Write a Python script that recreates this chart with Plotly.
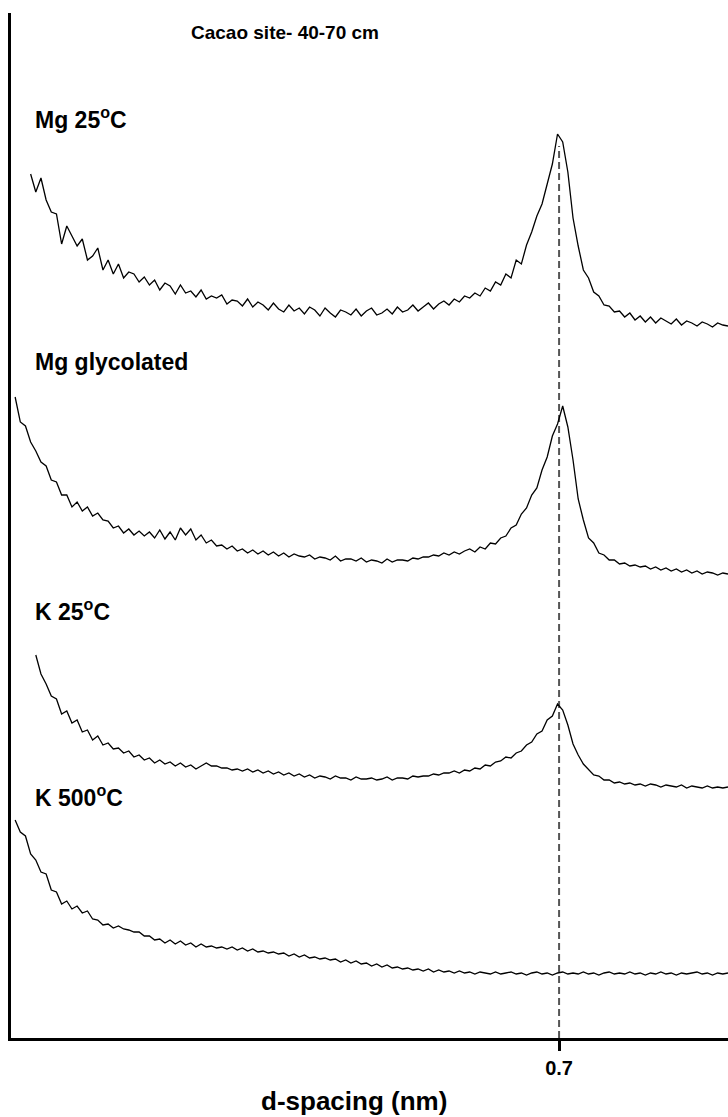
import plotly.graph_objects as go

# Scan grid in degrees 2-theta (Cu K-alpha), 0.1 degree step
TWO_THETA = [
    2.0, 2.1, 2.2, 2.3, 2.4, 2.5, 2.6, 2.7, 2.8, 2.9,
    3.0, 3.1, 3.2, 3.3, 3.4, 3.5, 3.6, 3.7, 3.8, 3.9,
    4.0, 4.1, 4.2, 4.3, 4.4, 4.5, 4.6, 4.7, 4.8, 4.9,
    5.0, 5.1, 5.2, 5.3, 5.4, 5.5, 5.6, 5.7, 5.8, 5.9,
    6.0, 6.1, 6.2, 6.3, 6.4, 6.5, 6.6, 6.7, 6.8, 6.9,
    7.0, 7.1, 7.2, 7.3, 7.4, 7.5, 7.6, 7.7, 7.8, 7.9,
    8.0, 8.1, 8.2, 8.3, 8.4, 8.5, 8.6, 8.7, 8.8, 8.9,
    9.0, 9.1, 9.2, 9.3, 9.4, 9.5, 9.6, 9.7, 9.8, 9.9,
    10.0, 10.1, 10.2, 10.3, 10.4, 10.5, 10.6, 10.7, 10.8, 10.9,
    11.0, 11.1, 11.2, 11.3, 11.4, 11.5, 11.6, 11.7, 11.8, 11.9,
    12.0, 12.1, 12.2, 12.3, 12.4, 12.5, 12.6, 12.7, 12.8, 12.9,
    13.0, 13.1, 13.2, 13.3, 13.4, 13.5, 13.6, 13.7, 13.8, 13.9,
    14.0, 14.1, 14.2, 14.3, 14.4, 14.5, 14.6, 14.7, 14.8, 14.9,
    15.0, 15.1, 15.2, 15.3, 15.4, 15.5, 15.6, 15.7, 15.8, 15.9,
]

# Intensities (counts); every scan ends at the last grid angle
MG_25C = [
    166, 148, 162, 140, 128, 126, 96, 114, 104, 94, 101, 80, 84, 92, 70, 80, 66,
    76, 62, 68, 66, 58, 63, 55, 60, 50, 57, 54, 46, 55, 47, 49, 43, 50, 41, 44, 42,
    45, 36, 40, 39, 34, 41, 33, 38, 35, 30, 37, 31, 28, 35, 29, 32, 26, 33, 30, 24,
    32, 27, 23, 30, 28, 25, 31, 24, 29, 32, 25, 27, 31, 26, 33, 28, 30, 35, 29, 33,
    37, 31, 36, 39, 35, 41, 38, 44, 42, 47, 44, 52, 49, 58, 55, 66, 62, 80, 76, 95,
    108, 124, 136, 156, 176, 206, 198, 168, 122, 94, 70, 62, 48, 44, 35, 34, 28, 29, 23, 27,
    20, 24, 18, 23, 17, 22, 19, 16, 21, 15, 19, 17, 14, 18, 16, 13, 17, 15, 14,
]

MG_GLYCOLATED = [
    193, 168, 164, 148, 139, 128, 124, 110, 108, 95, 95, 83, 88, 79, 83, 74, 77, 70, 69, 62,
    64, 57, 61, 55, 59, 54, 58, 52, 60, 51, 58, 50, 62, 55, 61, 50, 55, 47, 50, 44,
    45, 41, 44, 39, 41, 37, 40, 36, 39, 35, 38, 34, 37, 33, 36, 34, 33, 35, 31, 33,
    32, 30, 34, 29, 31, 31, 29, 32, 28, 30, 29, 27, 31, 28, 30, 30, 29, 32, 31, 33,
    33, 35, 34, 37, 35, 38, 36, 39, 41, 38, 43, 41, 47, 46, 52, 54, 62, 65, 76, 82,
    95, 102, 120, 133, 154, 166, 184, 163, 130, 91, 70, 52, 47, 37, 35, 30, 30, 26, 27, 24,
    25, 23, 24, 21, 23, 20, 22, 19, 21, 18, 20, 17, 19, 16, 18, 17, 15, 17, 16,
]

K_25C = [
    145, 126, 116, 104, 101, 86, 89, 77, 80, 68, 70, 60, 64, 55, 57, 51,
    52, 47, 49, 43, 45, 40, 42, 37, 40, 36, 38, 34, 37, 33, 35, 31, 34, 37, 34, 34,
    32, 32, 30, 31, 29, 31, 28, 30, 27, 29, 26, 28, 25, 27, 24, 26, 23, 25, 22, 24,
    23, 21, 24, 22, 22, 20, 23, 21, 21, 22, 20, 21, 23, 20, 22, 22, 21, 24, 23, 24,
    24, 26, 25, 27, 27, 29, 27, 30, 29, 32, 31, 35, 34, 38, 39, 43, 42, 47, 49, 55,
    58, 66, 69, 80, 84, 96, 90, 75, 56, 45, 36, 31, 25, 24, 20, 20, 17, 18, 16, 17,
    15, 16, 14, 16, 15, 13, 15, 14, 13, 15, 12, 14, 13, 12, 14, 12, 13, 12, 13,
]

K_500C = [
    170, 158, 154, 136, 130, 118, 116, 100, 98, 86, 89, 81, 84, 77, 79, 71, 70, 65, 66, 62,
    64, 61, 60, 58, 58, 54, 54, 50, 51, 47, 50, 46, 49, 45, 47, 43, 46, 43, 44, 42,
    43, 41, 43, 40, 42, 39, 41, 38, 39, 37, 38, 36, 37, 34, 36, 33, 35, 32, 33, 31,
    32, 30, 31, 28, 30, 27, 29, 26, 27, 24, 26, 23, 25, 22, 23, 21, 22, 20, 21, 19,
    21, 18, 20, 18, 19, 17, 19, 17, 18, 16, 18, 17, 16, 18, 16, 17, 18, 16, 17, 15,
    17, 18, 16, 17, 15, 17, 18, 16, 17, 16, 18, 16, 17, 15, 17, 18, 16, 17, 16, 18,
    16, 17, 15, 17, 16, 18, 16, 17, 15, 17, 16, 17, 18, 16, 17, 15, 17, 16, 17,
]

SERIES = [MG_25C, MG_GLYCOLATED, K_25C, K_500C]
LABELS = ["Mg 25<sup>o</sup>C", "Mg glycolated", "K 25<sup>o</sup>C", "K 500<sup>o</sup>C"]
STACK_OFFSETS = [700, 450, 240, 50]

# d = 0.7 nm reflection (kaolinite 001) expressed in 2-theta
KAOLINITE_2THETA = 12.63
TICK_TEXT = ["0.7"]

FONT = "Liberation Sans, Arial, sans-serif"

fig = go.Figure()
for vals, off in zip(SERIES, STACK_OFFSETS):
    xs = TWO_THETA[len(TWO_THETA) - len(vals):]
    fig.add_trace(go.Scatter(
        x=xs, y=[v + off for v in vals], mode="lines",
        line=dict(color="black", width=1.3), showlegend=False, hoverinfo="skip",
    ))

# dashed guide from the top scan's peak down to the axis
peak_top = max(MG_25C) + STACK_OFFSETS[0]
fig.add_shape(type="line", xref="x", yref="y",
              x0=KAOLINITE_2THETA, x1=KAOLINITE_2THETA, y0=2, y1=peak_top - 12,
              line=dict(color="#555555", width=2, dash="7px,4px"), layer="below")

# label positions (paper coords) for each scan
label_y = [0.8975, 0.6595, 0.4175, 0.2365]
for text, ly in zip(LABELS, label_y):
    fig.add_annotation(text=text, xref="paper", yref="paper",
                       x=0.031, y=ly, xanchor="left", yanchor="middle", showarrow=False,
                       font=dict(family=FONT, size=23, color="black", weight="bold"))

fig.add_annotation(text="Cacao site- 40-70 cm", xref="paper", yref="paper",
                   x=0.248, y=0.9805, xanchor="left", yanchor="middle", showarrow=False,
                   font=dict(family=FONT, size=19, color="black", weight="bold"))

fig.add_annotation(text="d-spacing (nm)", xref="paper", yref="paper",
                   x=0.479, y=-0.061, xanchor="center", yanchor="middle", showarrow=False,
                   font=dict(family=FONT, size=26, color="black", weight="bold"))

fig.update_layout(
    width=728, height=1117,
    margin=dict(l=11, r=0, t=13, b=79),
    paper_bgcolor="white", plot_bgcolor="white",
    xaxis=dict(range=[2.02, 15.9], showgrid=False, zeroline=False,
               showline=True, linecolor="black", linewidth=3,
               tickmode="array", tickvals=[KAOLINITE_2THETA], ticktext=TICK_TEXT,
               ticks="outside", ticklen=10, tickwidth=3, tickcolor="black",
               tickfont=dict(family=FONT, size=20, color="black", weight="bold")),
    yaxis=dict(range=[2, 1027], showgrid=False, zeroline=False,
               showline=True, linecolor="black", linewidth=3,
               showticklabels=False, ticks=""),
)

fig.write_html("out.html")
